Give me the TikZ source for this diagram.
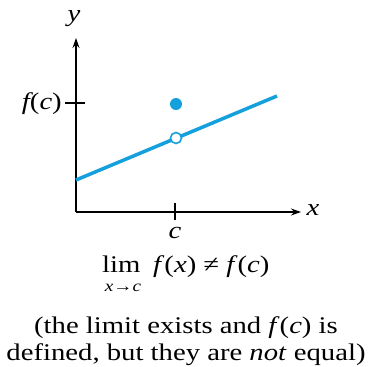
\documentclass[tikz,border=0pt]{standalone}
\usepackage{fontspec}
\setmainfont{Liberation Serif}[FakeStretch=1.2]
\usetikzlibrary{arrows.meta}
\definecolor{curveblue}{RGB}{20,160,220}
\begin{document}
\begin{tikzpicture}[x=1bp,y=-1bp,
  axis/.style={line width=1.2bp,-{Stealth[length=10bp,width=7bp]}},
  tickline/.style={line width=1.2bp},
  lbl/.style={font=\fontsize{24}{28}\selectfont\itshape, inner sep=0pt},
  txt/.style={font=\fontsize{24}{28}\selectfont, inner sep=0pt},
  subtxt/.style={font=\fontsize{16}{20}\selectfont, inner sep=0pt}]
\useasboundingbox (0,0) rectangle (369,367);
\coordinate (O) at (76,212);
\coordinate (ytip) at (76,38);
\coordinate (xtip) at (301,212);
\draw[axis] (O) -- (ytip);
\draw[axis] (O) -- (xtip);
\node[lbl] (ylab) at (74,19) {y};
\node[lbl] (xlab) at (313,210) {x};
\coordinate (fcl) at (65,103);
\coordinate (fcr) at (85,103);
\draw[tickline] (fcl) -- (fcr);
\node[lbl, anchor=east] (fclab) at (62,104) {f\upshape(\itshape c\upshape)};
\coordinate (ct) at (175,203);
\coordinate (cb) at (175,220);
\draw[tickline] (ct) -- (cb);
\node[lbl] (clab) at (175,233) {c};
\coordinate (L0) at (76,180);
\coordinate (L1) at (277,96);
\draw[curveblue, line width=3.5bp] (L0) -- (L1);
\node[circle, fill=curveblue, minimum size=12bp, inner sep=0pt] (fdot) at (176,104) {};
\node[circle, fill=white, draw=curveblue, line width=1.6bp, minimum size=11bp, inner sep=0pt] (hole) at (176,138) {};
\node[txt, anchor=base west] (lim) at (102,272) {lim};
\node[subtxt, anchor=base] (limsub) at (123,291) {\textit{x}→\textit{c}};
\node[txt, anchor=base west] (lhs) at (153,272) {\textit{f}(\textit{x}) ≠ \textit{f}(\textit{c})};
\node[txt, anchor=base] (t1) at (186,333) {(the limit exists and \textit{f}(\textit{c}) is};
\node[txt, anchor=base] (t2) at (186,360) {defined, but they are \textit{not} equal)};
\end{tikzpicture}
\end{document}
